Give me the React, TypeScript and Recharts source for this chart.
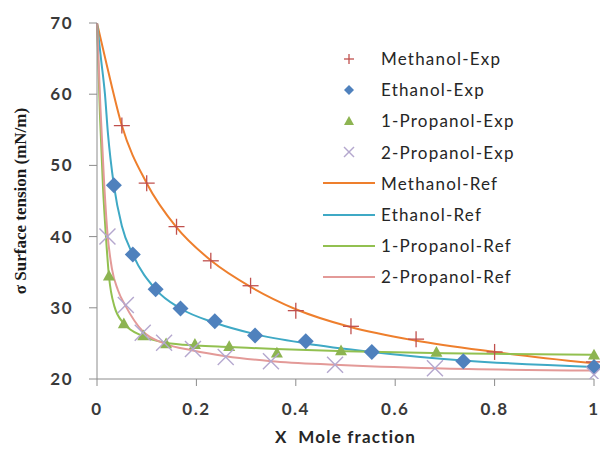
import React from 'react';
import { ComposedChart, Line, Scatter, XAxis, YAxis, Legend } from 'recharts';

// experimental points
const methanolExpX = [0.05, 0.1, 0.16, 0.229, 0.309, 0.4, 0.511, 0.642, 0.8, 1.0];
const methanolExpY = [55.6, 47.5, 41.4, 36.6, 33.1, 29.6, 27.4, 25.6, 23.8, 22.4];
const ethanolExpX = [0.034, 0.072, 0.118, 0.168, 0.237, 0.318, 0.42, 0.553, 0.737, 1.0];
const ethanolExpY = [47.2, 37.5, 32.6, 29.9, 28.1, 26.1, 25.3, 23.8, 22.5, 21.7];
const propanol1ExpX = [0.024, 0.054, 0.093, 0.139, 0.197, 0.266, 0.362, 0.491, 0.683, 1.0];
const propanol1ExpY = [34.5, 27.8, 26.1, 25.0, 24.9, 24.6, 23.7, 24.0, 23.8, 23.4];
const propanol2ExpX = [0.021, 0.058, 0.092, 0.135, 0.193, 0.259, 0.35, 0.479, 0.68, 1.0];
const propanol2ExpY = [40.0, 30.4, 26.5, 25.1, 24.2, 23.1, 22.5, 22.0, 21.5, 20.6];

// reference curves
const methanolRefX = [0, 0.02, 0.05, 0.1, 0.16, 0.23, 0.31, 0.4, 0.51, 0.64, 0.8, 1.0];
const methanolRefY = [70, 64, 55.6, 47.5, 41.3, 36.6, 32.9, 29.8, 27.3, 25.4, 23.8, 22.2];
const ethanolRefX = [0, 0.008, 0.016, 0.022, 0.034, 0.05, 0.072, 0.118, 0.168, 0.237, 0.318, 0.42, 0.553, 0.737, 1.0];
const ethanolRefY = [70, 65, 60, 54.5, 47.2, 41.5, 37.5, 32.6, 29.9, 27.9, 26.3, 25.0, 23.8, 22.6, 21.7];
const propanol1RefX = [0, 0.006, 0.012, 0.018, 0.024, 0.035, 0.054, 0.093, 0.139, 0.2, 0.266, 0.36, 0.5, 0.7, 1.0];
const propanol1RefY = [70, 57, 47, 40, 34.5, 30.2, 27.8, 26.0, 25.1, 24.7, 24.5, 24.2, 23.9, 23.6, 23.4];
const propanol2RefX = [0, 0.007, 0.014, 0.021, 0.03, 0.042, 0.058, 0.092, 0.135, 0.193, 0.259, 0.35, 0.479, 0.68, 1.0];
const propanol2RefY = [70, 58, 48, 40.5, 35.5, 32.5, 30.2, 26.7, 25.0, 24.0, 23.2, 22.5, 22.0, 21.5, 21.2];

const xTicks = [0, 0.2, 0.4, 0.6, 0.8, 1];
const yTicks = [20, 30, 40, 50, 60, 70];

const toPoints = (xs: number[], ys: number[]) => xs.map((x, i) => ({ x, y: ys[i] }));

const C = {
  plus: '#C0504D',
  diamond: '#4F81BD',
  triangle: '#8DB451',
  cross: '#B4A7CE',
  methRef: '#EE7F2D',
  ethRef: '#3FA9C5',
  prop1Ref: '#92C050',
  prop2Ref: '#E39A98',
};

const PlusShape = ({ cx, cy, size = 8 }: any) => (
  <g stroke={C.plus} strokeWidth={1.3}>
    <line x1={cx - size} y1={cy} x2={cx + size} y2={cy} />
    <line x1={cx} y1={cy - size} x2={cx} y2={cy + size} />
  </g>
);

const DiamondShape = ({ cx, cy, size = 8 }: any) => (
  <path d={`M${cx},${cy - size} L${cx + size},${cy} L${cx},${cy + size} L${cx - size},${cy} Z`} fill={C.diamond} />
);

const TriangleShape = ({ cx, cy, size = 6 }: any) => (
  <path d={`M${cx},${cy - size} L${cx + size},${cy + size * 0.8} L${cx - size},${cy + size * 0.8} Z`} fill={C.triangle} />
);

const CrossShape = ({ cx, cy, size = 8 }: any) => (
  <g stroke={C.cross} strokeWidth={1.4}>
    <line x1={cx - size} y1={cy - size} x2={cx + size} y2={cy + size} />
    <line x1={cx - size} y1={cy + size} x2={cx + size} y2={cy - size} />
  </g>
);

const legendItems = [
  { name: 'Methanol-Exp', kind: 'plus' },
  { name: 'Ethanol-Exp', kind: 'diamond' },
  { name: '1-Propanol-Exp', kind: 'triangle' },
  { name: '2-Propanol-Exp', kind: 'cross' },
  { name: 'Methanol-Ref', kind: 'line', color: C.methRef },
  { name: 'Ethanol-Ref', kind: 'line', color: C.ethRef },
  { name: '1-Propanol-Ref', kind: 'line', color: C.prop1Ref },
  { name: '2-Propanol-Ref', kind: 'line', color: C.prop2Ref },
];

const LegendIcon = ({ kind, color }: any) => {
  const cx = 26, cy = 9;
  return (
    <svg width={58} height={18} style={{ display: 'block' }}>
      {kind === 'plus' && <PlusShape cx={cx} cy={cy} size={5} />}
      {kind === 'diamond' && <DiamondShape cx={cx} cy={cy} size={5} />}
      {kind === 'triangle' && <TriangleShape cx={cx} cy={cy} size={5} />}
      {kind === 'cross' && <CrossShape cx={cx} cy={cy} size={5} />}
      {kind === 'line' && <line x1={0} y1={cy} x2={52} y2={cy} stroke={color} strokeWidth={2} />}
    </svg>
  );
};

const CustomLegend = () => (
  <div>
    {legendItems.map((item) => (
      <div key={item.name} style={{ display: 'flex', alignItems: 'center', height: 31.2 }}>
        <LegendIcon kind={item.kind} color={item.color} />
        <span style={{ fontFamily: 'Lato, sans-serif', fontSize: 17, letterSpacing: 1.2, color: '#262626' }}>{item.name}</span>
      </div>
    ))}
  </div>
);

const fmtX = (v: number) => (v === 0 || v === 1 ? String(v) : v.toFixed(1));

const tickStyle = { fontFamily: 'Lato, sans-serif', fontSize: 17, fontWeight: 'bold', letterSpacing: 1.5, fill: '#3a3a3a' };

const YTitle = () => (
  <text
    x={20}
    y={201}
    transform="rotate(-90 20 201)"
    textAnchor="middle"
    dominantBaseline="central"
    fontFamily='"Liberation Serif", serif'
    fontSize={17}
    fontWeight="bold"
    fill="#1a1a1a"
  >
    σ Surface tension (mN/m)
  </text>
);

export default function App() {
  return (
    <div style={{ position: 'absolute', left: 0, top: 0, width: 600, height: 453, background: '#fff' }}>
      <ComposedChart width={600} height={453} margin={{ top: 23, right: 6, bottom: 6, left: 0 }}>
        <XAxis
          type="number"
          dataKey="x"
          domain={[0, 1]}
          ticks={xTicks}
          tickFormatter={fmtX}
          height={68}
          tickSize={7}
          tickMargin={17}
          stroke="#8c8c8c"
          tick={tickStyle}
          label={{
            value: 'X\u00a0\u00a0Mole fraction',
            position: 'insideBottom',
            offset: 4,
            style: { fontFamily: 'Lato, sans-serif', fontSize: 17, fontWeight: 'bold', letterSpacing: 1.2, fill: '#262626' },
          }}
        />
        <YAxis
          type="number"
          dataKey="y"
          domain={[20, 70]}
          ticks={yTicks}
          width={97}
          tickSize={8}
          tickMargin={16}
          stroke="#8c8c8c"
          allowDataOverflow
          tick={tickStyle}
          label={{ content: () => <YTitle /> }}
        />
        <Legend
          layout="vertical"
          align="center"
          verticalAlign="middle"
          content={<CustomLegend />}
          wrapperStyle={{ left: 323, top: 43, width: 220 }}
        />
        <Line data={toPoints(methanolRefX, methanolRefY)} dataKey="y" type="monotone" stroke={C.methRef} strokeWidth={2} dot={false} isAnimationActive={false} />
        <Line data={toPoints(ethanolRefX, ethanolRefY)} dataKey="y" type="monotone" stroke={C.ethRef} strokeWidth={2} dot={false} isAnimationActive={false} />
        <Line data={toPoints(propanol1RefX, propanol1RefY)} dataKey="y" type="monotone" stroke={C.prop1Ref} strokeWidth={2} dot={false} isAnimationActive={false} />
        <Line data={toPoints(propanol2RefX, propanol2RefY)} dataKey="y" type="monotone" stroke={C.prop2Ref} strokeWidth={2} dot={false} isAnimationActive={false} />
        <Scatter data={toPoints(methanolExpX, methanolExpY)} dataKey="y" shape={(p: any) => <PlusShape cx={p.cx} cy={p.cy} />} isAnimationActive={false} />
        <Scatter data={toPoints(ethanolExpX, ethanolExpY)} dataKey="y" shape={(p: any) => <DiamondShape cx={p.cx} cy={p.cy} />} isAnimationActive={false} />
        <Scatter data={toPoints(propanol1ExpX, propanol1ExpY)} dataKey="y" shape={(p: any) => <TriangleShape cx={p.cx} cy={p.cy} />} isAnimationActive={false} />
        <Scatter data={toPoints(propanol2ExpX, propanol2ExpY)} dataKey="y" shape={(p: any) => <CrossShape cx={p.cx} cy={p.cy} />} isAnimationActive={false} />
      </ComposedChart>
    </div>
  );
}
